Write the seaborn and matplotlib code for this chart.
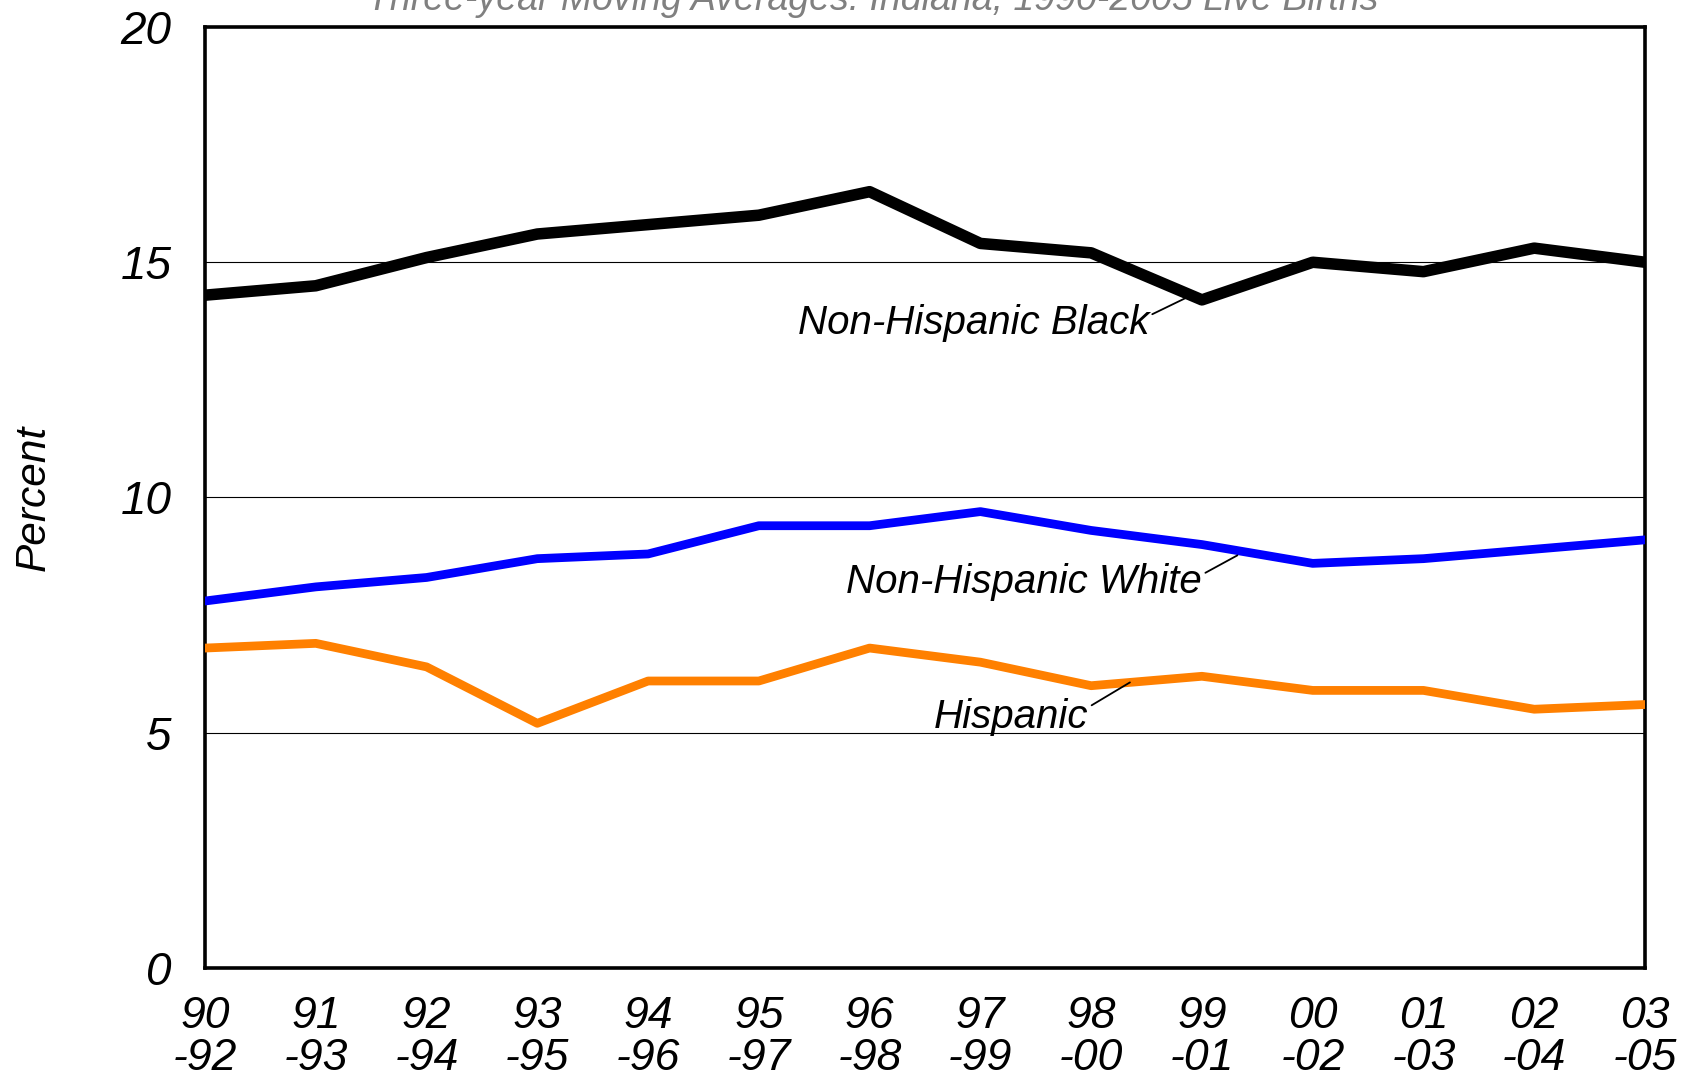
import pandas as pd
import matplotlib
matplotlib.use("Agg")
import matplotlib.pyplot as plt
import seaborn as sns

# data
periods = ['90\n-92', '91\n-93', '92\n-94', '93\n-95', '94\n-96', '95\n-97', '96\n-98',
           '97\n-99', '98\n-00', '99\n-01', '00\n-02', '01\n-03', '02\n-04', '03\n-05']
nh_black = [14.3, 14.5, 15.1, 15.6, 15.8, 16.0, 16.5, 15.4, 15.2, 14.2, 15.0, 14.8, 15.3, 15.0]
nh_white = [7.8, 8.1, 8.3, 8.7, 8.8, 9.4, 9.4, 9.7, 9.3, 9.0, 8.6, 8.7, 8.9, 9.1]
hispanic = [6.8, 6.9, 6.4, 5.2, 6.1, 6.1, 6.8, 6.5, 6.0, 6.2, 5.9, 5.9, 5.5, 5.6]
groups = ['Non-Hispanic Black', 'Non-Hispanic White', 'Hispanic']
y_ticks = [0, 5, 10, 15, 20]

df = pd.DataFrame({
    'idx': list(range(len(periods))) * 3,
    'value': nh_black + nh_white + hispanic,
    'group': [g for g in groups for _ in periods],
})

sns.set_style("white")
plt.rcParams['font.family'] = ['Liberation Sans', 'DejaVu Sans']
plt.rcParams['font.style'] = 'italic'
plt.rcParams['text.color'] = 'black'
plt.rcParams['axes.labelcolor'] = 'black'
plt.rcParams['xtick.color'] = 'black'
plt.rcParams['ytick.color'] = 'black'

fig = plt.figure(figsize=(16.9, 10.81), dpi=100)
ax = fig.add_axes([205 / 1690, 113 / 1081, 1440 / 1690, 941 / 1081])

palette = {'Non-Hispanic Black': '#000000', 'Non-Hispanic White': '#0000FF', 'Hispanic': '#FF8000'}
sns.lineplot(data=df, x='idx', y='value', hue='group', palette=palette, ax=ax, legend=False,
             linewidth=6.3, zorder=3)
# black line is thicker
ax.lines[0].set_linewidth(8.3)

ax.set_xlim(0, len(periods) - 1)
ax.set_ylim(0, 20)
ax.set_yticks(y_ticks)
ax.set_yticklabels([str(t) for t in y_ticks], fontsize=33, style='italic')
ax.set_xticks(range(len(periods)))
ax.set_xticklabels(periods, fontsize=32, style='italic', linespacing=1.05)
ax.tick_params(axis='y', length=0, pad=24)
ax.tick_params(axis='x', length=0, pad=20)
ax.set_xlabel('')
ax.set_ylabel('Percent', fontsize=30.5, style='italic', labelpad=48)

for t in [5, 10, 15]:
    ax.axhline(t, color='black', linewidth=0.8, zorder=1)

for s in ax.spines.values():
    s.set_visible(True)
    s.set_color('black')
    s.set_linewidth(2.6)

# labels with leader lines
lbl = dict(fontsize=29, style='italic', color='black', va='center', ha='left')
ax.annotate('Non-Hispanic Black', xy=(8.95, 14.35), xytext=(5.35, 13.7),
            arrowprops=dict(arrowstyle='-', color='black', lw=1.3, shrinkA=0, shrinkB=0,
                            relpos=(1.0, 0.7)), **lbl)
ax.annotate('Non-Hispanic White', xy=(9.32, 8.77), xytext=(5.79, 8.2),
            arrowprops=dict(arrowstyle='-', color='black', lw=1.3, shrinkA=0, shrinkB=0,
                            relpos=(1.0, 0.7)), **lbl)
ax.annotate('Hispanic', xy=(8.35, 6.07), xytext=(6.58, 5.34),
            arrowprops=dict(arrowstyle='-', color='black', lw=1.3, shrinkA=0, shrinkB=0,
                            relpos=(1.0, 0.75)), **lbl)

# title, clipped at the top of the image as in the original
fig.text(873 / 1690, 1 - 10 / 1081, 'Three-year Moving Averages: Indiana, 1990-2005 Live Births',
         ha='center', va='baseline', fontsize=27, style='italic', color='#808080')

fig.savefig('out.png', dpi=100)
